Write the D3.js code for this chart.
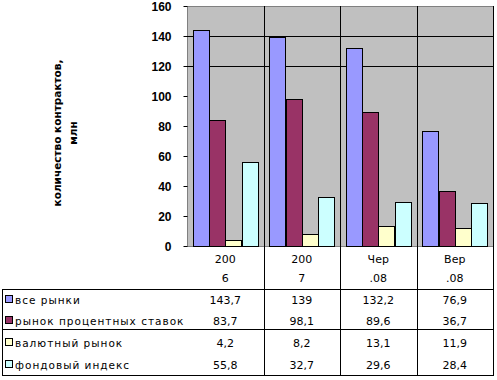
<!DOCTYPE html>
<html><head><meta charset="utf-8">
<script src="https://cdn.jsdelivr.net/npm/d3@7"></script>
<style>body{margin:0;background:#fff}svg{display:block}text{font-family:"DejaVu Sans",sans-serif}</style>
</head><body>
<svg id="c" width="497" height="380"></svg>
<script>
const categories = ["2006", "2007", "Чер.08", "Вер.08"];
const seriesNames = ["все рынки", "рынок процентных ставок", "валютный рынок", "фондовый индекс"];
const allMarkets = [143.7, 139, 132.2, 76.9];
const interestRates = [83.7, 98.1, 89.6, 36.7];
const currencyMarket = [4.2, 8.2, 13.1, 11.9];
const stockIndex = [55.8, 32.7, 29.6, 28.4];
const tableLabels = [["143,7","139","132,2","76,9"],["83,7","98,1","89,6","36,7"],["4,2","8,2","13,1","11,9"],["55,8","32,7","29,6","28,4"]];
const yTicks = [0, 20, 40, 60, 80, 100, 120, 140, 160];
const gridValues = [120, 140];
const yTitle = ["количество контрактов,", "млн"];
const colors = ["#9999FF", "#993366", "#FFFFCC", "#CCFFFF"];

const seriesValues = [allMarkets, interestRates, currencyMarket, stockIndex];
const svg = d3.select("#c");
const L = 187, R = 493, T = 6, B = 246;
const x = d3.scaleBand().domain(categories).range([L, R]);
const bw = x.bandwidth();
const xs = d3.scaleBand().domain(d3.range(4)).range([5.75, bw - 5.75]);
const y = d3.scaleLinear().domain([0, 160]).range([B, T]);

// plot background
svg.append("rect").attr("x", L + 0.5).attr("y", T + 0.5).attr("width", R - L).attr("height", B - T)
  .attr("fill", "#C0C0C0").attr("stroke", "#808080");

// gridlines
svg.selectAll(".grid").data(gridValues).join("line")
  .attr("x1", L).attr("x2", R).attr("y1", d => Math.round(y(d)) + 0.5).attr("y2", d => Math.round(y(d)) + 0.5)
  .attr("stroke", "#000");

// bars
categories.forEach((c, ci) => {
  seriesValues.forEach((vals, si) => {
    svg.append("rect")
      .attr("x", Math.round(x(c) + xs(si)) + 0.5)
      .attr("y", Math.round(y(vals[ci])) + 0.5)
      .attr("width", Math.round(xs.bandwidth()))
      .attr("height", Math.round(B - y(vals[ci])))
      .attr("fill", colors[si]).attr("stroke", "#000");
  });
});

// y axis
const yAxis = d3.axisLeft(y).tickValues(yTicks).tickSize(4).tickPadding(12).tickFormat(d3.format("d"));
const ga = svg.append("g").attr("transform", `translate(${L + 0.5},0)`).call(yAxis);
ga.select(".domain").remove();
ga.selectAll("line").attr("stroke", "#000");
ga.selectAll("text").attr("font-size", 12).attr("font-weight", "bold").attr("fill", "#000")
  .style("font-family", "'Liberation Sans',Arial,sans-serif").attr("dy", "0.35em");

// y title
const yt = svg.append("text").attr("transform", "translate(61,133) rotate(-90)")
  .attr("text-anchor", "middle").attr("font-size", 10.5).attr("font-weight", "bold");
yTitle.forEach((t, i) => yt.append("tspan").attr("x", 0).attr("y", i === 0 ? 0 : 16).text(t));

// vertical category lines
const boundaries = categories.map(c => x(c) + bw);
svg.selectAll(".vl").data(boundaries).join("line")
  .attr("x1", d => Math.round(d) + 0.5).attr("x2", d => Math.round(d) + 0.5)
  .attr("y1", T).attr("y2", 376).attr("stroke", "#000");

// category header labels (wrapped)
categories.forEach(c => {
  const t = svg.append("text").attr("text-anchor", "middle").attr("font-size", 11)
    .attr("x", x(c) + bw / 2);
  t.append("tspan").attr("x", x(c) + bw / 2).attr("y", 263).text(c.slice(0, 3));
  t.append("tspan").attr("x", x(c) + bw / 2).attr("y", 282).text(c.slice(3));
});

// table lines
const hline = (yy, x1, x2) => svg.append("line").attr("x1", x1).attr("x2", x2).attr("y1", yy + 0.5).attr("y2", yy + 0.5).attr("stroke", "#000");
hline(289, 2, 494);
hline(329, 2, 494);
hline(375, 2, 494);
svg.append("line").attr("x1", 2.5).attr("x2", 2.5).attr("y1", 289).attr("y2", 376).attr("stroke", "#000");

// table rows
const rowY = [300, 321, 343, 365];
seriesNames.forEach((n, si) => {
  svg.append("rect").attr("x", 5.5).attr("y", rowY[si] - 4.5).attr("width", 7).attr("height", 7)
    .attr("fill", colors[si]).attr("stroke", "#000");
  svg.append("text").attr("x", 15).attr("y", rowY[si]).attr("dy", "0.35em").attr("font-size", 10.5)
    .attr("letter-spacing", 1).text(n);
  categories.forEach((c, ci) => {
    svg.append("text").attr("x", x(c) + bw / 2).attr("y", rowY[si]).attr("dy", "0.35em")
      .attr("text-anchor", "middle").attr("font-size", 11).text(tableLabels[si][ci]);
  });
});
</script>
</body></html>
